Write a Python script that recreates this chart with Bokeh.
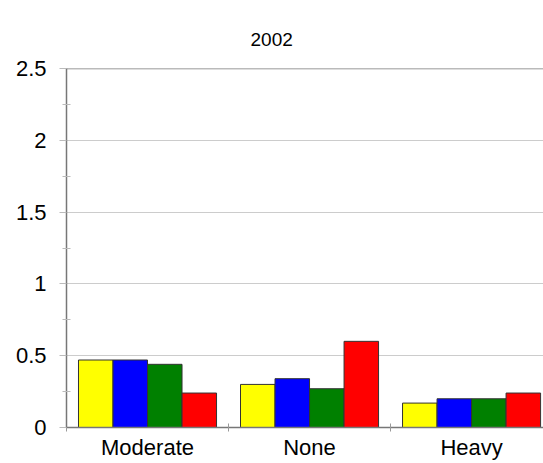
import numpy as np
from bokeh.plotting import figure
from bokeh.models import Range1d, FixedTicker, Span, Title
from bokeh.embed import file_html
from bokeh.resources import INLINE

chart_title = "2002"
categories = ["Moderate", "None", "Heavy"]
series_names = ["Series 1", "Series 2", "Series 3", "Series 4"]
yellow_vals = [0.47, 0.30, 0.17]
blue_vals = [0.47, 0.34, 0.20]
green_vals = [0.44, 0.27, 0.20]
red_vals = [0.24, 0.60, 0.24]
colors = ["#FFFF00", "#0000FF", "#008000", "#FF0000"]
y_ticks = [0, 0.5, 1, 1.5, 2, 2.5]

FONT = "Liberation Sans"

p = figure(width=543, height=463, output_backend="svg", toolbar_location=None,
           x_range=Range1d(0, 2.944), y_range=Range1d(0, 2.5),
           min_border_left=66, min_border_right=0, min_border_bottom=36, min_border_top=68)

p.title = Title(text=chart_title, align="left", offset=184, standoff=45,
                text_font=FONT, text_font_size="19px", text_font_style="normal",
                text_color="#000000")

idx = np.arange(len(categories))
bar_w = 0.213
margin = 0.074
all_vals = [yellow_vals, blue_vals, green_vals, red_vals]
for k, (vals, c, nm) in enumerate(zip(all_vals, colors, series_names)):
    xs = idx + margin + bar_w * (k + 0.5)
    p.vbar(x=xs, top=vals, width=bar_w, bottom=0, fill_color=c,
           line_color="#333333", line_width=1)

p.outline_line_color = None
p.add_layout(Span(location=2.5, dimension="width", line_color="#777777", line_width=1.5))

# x axis
xa = p.xaxis[0]
xa.ticker = FixedTicker(ticks=list(idx + 0.5), minor_ticks=[0, 1, 2, 3])
xa.major_label_overrides = {float(i + 0.5): c for i, c in enumerate(categories)}
xa.major_tick_out = 0
xa.major_tick_in = 0
xa.minor_tick_out = 4
xa.minor_tick_in = 4
xa.minor_tick_line_color = "#999999"
xa.axis_line_color = "#777777"
xa.axis_line_width = 1.5
xa.major_label_text_font = FONT
xa.major_label_text_font_size = "22px"
xa.major_label_text_color = "#000000"
xa.major_label_standoff = 3

# y axis
ya = p.yaxis[0]
ya.ticker = FixedTicker(ticks=y_ticks, minor_ticks=[0.25, 0.75, 1.25, 1.75, 2.25])
ya.major_tick_out = 7
ya.major_tick_in = 0
ya.minor_tick_out = 4
ya.minor_tick_in = 4
ya.major_tick_line_color = "#bbbbbb"
ya.minor_tick_line_color = "#bbbbbb"
ya.axis_line_color = "#777777"
ya.axis_line_width = 1.5
ya.major_label_text_font = FONT
ya.major_label_text_font_size = "22px"
ya.major_label_text_color = "#000000"
ya.major_label_standoff = 13
ya.major_label_overrides = {0: "0", 0.5: "0.5", 1: "1", 1.5: "1.5", 2: "2", 2.5: "2.5"}

p.xgrid.grid_line_color = None
p.ygrid.grid_line_color = "#cccccc"
p.ygrid.ticker = FixedTicker(ticks=y_ticks)

open("out.html", "w").write(file_html(p, INLINE))
